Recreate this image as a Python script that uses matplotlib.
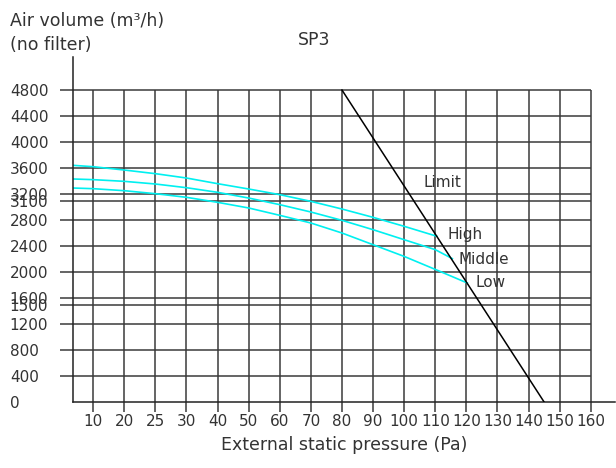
import matplotlib
matplotlib.use("Agg")
import matplotlib.pyplot as plt

plt.rcParams['font.family'] = ['DejaVu Sans']

# x axis: pressure labels at evenly spaced positions
pressure_labels = ["10", "20", "25", "30", "40", "50", "60", "70", "80",
                   "90", "100", "110", "120", "130", "140", "150", "160"]
pressure_pos = list(range(len(pressure_labels)))

volume_ticks = [0, 400, 800, 1200, 1500, 1600, 2000, 2400, 2800,
                3100, 3200, 3600, 4000, 4400, 4800]

# fan curves (x in tick-position units)
high_x = [-0.64, 0, 1, 2, 3, 4, 5, 6, 7, 8, 9, 10, 11.05]
high_y = [3641, 3620, 3569, 3513, 3446, 3359, 3277, 3190, 3087, 2969, 2841,
          2703, 2550]
mid_x = [-0.64, 0, 1, 2, 3, 4, 5, 6, 7, 8, 9, 10, 11, 11.55]
mid_y = [3431, 3421, 3395, 3354, 3297, 3226, 3138, 3036, 2923, 2795, 2651,
         2497, 2344, 2205]
low_x = [-0.64, 0, 1, 2, 3, 4, 5, 6, 7, 8, 9, 10, 11, 12.03]
low_y = [3292, 3282, 3251, 3205, 3149, 3072, 2985, 2872, 2754, 2600, 2420,
         2240, 2040, 1831]

limit_x = [8, 14.5]
limit_y = [4800, 0]

fig = plt.figure(figsize=(6.16, 4.68), dpi=100)
ax = fig.add_axes([73 / 616, 66 / 468, 542 / 616, 345 / 468])

txt = '#333333'
gridc = '#3a3a3a'
cyan = '#00f0f0'

ax.set_xlim(-0.65, 16.78)
ax.set_ylim(0, 5308)

# grid
ax.hlines(volume_ticks[1:], -0.65, 16, color=gridc, lw=1.1, zorder=1)
ax.vlines(pressure_pos, 0, 4800, color=gridc, lw=1.1, zorder=1)

ax.plot(high_x, high_y, color=cyan, lw=1.2, zorder=2)
ax.plot(mid_x, mid_y, color=cyan, lw=1.2, zorder=2)
ax.plot(low_x, low_y, color=cyan, lw=1.2, zorder=2)
ax.plot(limit_x, limit_y, color='black', lw=1.1, zorder=3)

for s in ['top', 'right']:
    ax.spines[s].set_visible(False)
for s in ['left', 'bottom']:
    ax.spines[s].set_color('#222222')
    ax.spines[s].set_linewidth(1.1)

ax.set_xticks(pressure_pos)
ax.set_xticklabels(pressure_labels)
ax.set_yticks(volume_ticks)
ax.set_yticklabels([str(v) for v in volume_ticks])
ax.tick_params(axis='x', length=7, width=1.1, color=gridc, labelsize=11,
               labelcolor=txt, pad=2)
ax.tick_params(axis='y', length=9.5, width=1.1, color=gridc, labelsize=11,
               labelcolor=txt, pad=36)
for lab in ax.get_yticklabels():
    lab.set_horizontalalignment('left')
ax.yaxis.get_major_ticks()[0].tick1line.set_visible(False)

ax.set_xlabel("External static pressure (Pa)", fontsize=12.5, color=txt,
              labelpad=5)

fig.text(10 / 616, 1 - 21 / 468, "Air volume (m³/h)", fontsize=12.5,
         color=txt, va='center', ha='left')
fig.text(10 / 616, 1 - 45 / 468, "(no filter)", fontsize=12.5, color=txt,
         va='center', ha='left')
fig.text(314 / 616, 1 - 40 / 468, "SP3", fontsize=12.5, color=txt,
         va='center', ha='center')

ax.text(10.62, 3380, "Limit", fontsize=11, color=txt, va='center')
ax.text(11.4, 2570, "High", fontsize=11, color=txt, va='center')
ax.text(11.75, 2200, "Middle", fontsize=11, color=txt, va='center')
ax.text(12.3, 1840, "Low", fontsize=11, color=txt, va='center')

fig.savefig("out.png", dpi=100)
